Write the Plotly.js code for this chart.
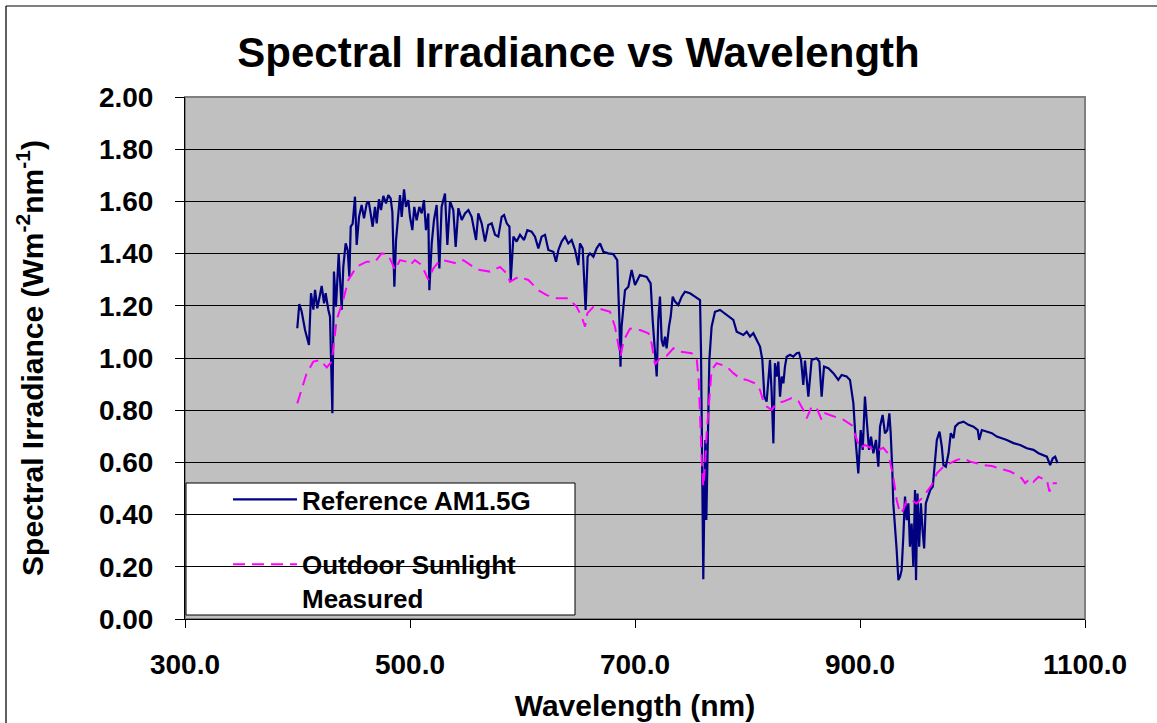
<!DOCTYPE html>
<html>
<head>
<meta charset="utf-8">
<script src="https://cdn.plot.ly/plotly-3.0.1.min.js"></script>
<style>
html,body{margin:0;padding:0;background:#fff;}
#chart{width:1157px;height:723px;}
</style>
</head>
<body>
<div id="chart"></div>
<script>
// Reference AM1.5G spectrum (wavelength nm, irradiance W m^-2 nm^-1)
const refWavelength = [399.8,401.6,403.7,406.7,410.2,412.0,414.1,415.6,417.6,419.4,421.5,423.6,425.0,427.4,428.9,431.0,432.4,434.2,436.6,439.3,440.7,442.8,444.6,446.1,447.3,449.0,451.1,452.6,454.7,457.0,459.1,461.5,463.3,465.0,466.8,468.9,470.4,472.4,474.2,476.3,478.7,480.7,482.8,484.3,486.1,487.6,489.6,491.1,492.6,494.7,496.4,498.5,500.0,502.1,503.8,505.9,508.3,510.4,512.4,514.2,516.3,517.2,519.3,521.3,523.7,526.1,528.1,531.1,533.2,535.6,538.5,540.6,543.0,546.0,548.9,551.9,554.8,558.7,560.7,563.7,566.7,569.6,572.6,575.6,578.5,581.5,583.6,586.0,588.4,589.5,591.9,594.8,597.8,601.4,604.3,608.1,611.1,614.1,617.0,620.0,623.0,627.4,629.8,631.9,634.8,637.8,640.7,643.7,646.7,649.6,651.1,653.5,656.1,657.9,660.0,663.0,665.9,668.9,671.9,676.3,680.7,684.2,686.1,687.1,688.1,691.1,694.1,697.0,700.0,704.4,710.4,713.9,715.7,717.8,719.3,720.7,722.2,723.7,725.2,726.7,728.1,730.2,731.7,733.5,735.6,738.5,741.5,744.4,748.9,753.3,756.3,757.8,758.7,759.3,760.7,761.6,762.5,763.4,764.6,766.1,768.1,771.1,775.6,780.0,784.4,787.4,790.4,793.3,796.3,799.3,802.2,805.2,808.1,811.1,813.2,815.0,817.0,818.5,820.0,821.5,823.0,824.4,825.9,827.4,828.9,830.4,831.9,833.3,834.8,837.8,840.7,843.7,845.8,847.6,849.6,851.1,854.1,857.0,861.5,863.9,865.9,868.0,871.9,876.3,880.7,883.7,888.1,891.1,894.1,896.1,898.5,900.6,902.4,904.4,905.9,908.0,909.8,911.9,914.2,916.3,917.8,920.1,922.2,924.3,926.1,927.3,928.7,929.6,932.6,934.1,935.6,937.0,938.5,940.0,941.5,943.0,944.4,945.9,947.4,948.9,949.8,951.1,952.6,954.1,955.6,957.0,958.5,960.3,962.4,964.7,966.8,968.3,970.7,972.7,974.2,976.3,978.7,980.7,983.1,984.6,987.6,992.0,996.4,1000.9,1004.7,1005.9,1008.3,1012.7,1017.2,1021.6,1026.1,1030.5,1036.4,1042.4,1048.3,1054.2,1058.7,1061.6,1066.1,1069.0,1071.4,1073.5,1075.6];
const refIrradiance = [1.114,1.207,1.178,1.107,1.050,1.248,1.185,1.261,1.190,1.235,1.276,1.209,1.248,1.185,1.158,0.788,1.331,1.197,1.398,1.185,1.349,1.439,1.413,1.312,1.503,1.514,1.618,1.433,1.541,1.586,1.535,1.592,1.599,1.554,1.503,1.579,1.516,1.608,1.567,1.621,1.592,1.624,1.611,1.560,1.273,1.452,1.567,1.624,1.541,1.646,1.579,1.605,1.541,1.490,1.579,1.528,1.579,1.554,1.605,1.490,1.554,1.260,1.439,1.528,1.586,1.343,1.579,1.630,1.433,1.600,1.567,1.426,1.574,1.529,1.554,1.567,1.541,1.452,1.554,1.516,1.446,1.510,1.516,1.472,1.465,1.541,1.548,1.516,1.503,1.292,1.465,1.446,1.472,1.452,1.490,1.484,1.465,1.420,1.465,1.472,1.414,1.407,1.369,1.414,1.446,1.465,1.439,1.452,1.414,1.356,1.439,1.420,1.184,1.388,1.401,1.388,1.420,1.439,1.407,1.401,1.398,1.375,1.146,0.967,1.120,1.260,1.273,1.337,1.280,1.318,1.311,1.286,1.146,0.993,0.929,1.146,1.235,1.069,1.044,1.082,1.037,1.120,1.158,1.235,1.216,1.203,1.235,1.254,1.248,1.235,1.228,1.222,1.018,0.635,0.152,0.443,0.686,0.379,0.635,0.993,1.120,1.177,1.184,1.171,1.158,1.146,1.101,1.095,1.088,1.101,1.082,1.095,1.069,1.044,0.993,0.852,0.833,0.903,0.993,0.865,0.673,0.980,0.929,0.986,0.852,0.929,0.903,0.967,1.005,1.012,1.005,1.018,1.020,0.993,0.897,0.990,0.852,0.993,0.999,0.986,0.852,0.967,0.961,0.942,0.916,0.935,0.929,0.916,0.827,0.686,0.558,0.724,0.648,0.852,0.775,0.648,0.699,0.635,0.686,0.584,0.737,0.782,0.711,0.724,0.788,0.711,0.571,0.443,0.264,0.149,0.162,0.188,0.315,0.469,0.379,0.443,0.277,0.366,0.200,0.494,0.149,0.481,0.277,0.443,0.341,0.270,0.443,0.469,0.494,0.507,0.622,0.686,0.718,0.661,0.590,0.584,0.635,0.712,0.693,0.737,0.750,0.756,0.744,0.737,0.724,0.686,0.724,0.718,0.712,0.699,0.693,0.686,0.674,0.667,0.654,0.648,0.635,0.629,0.622,0.590,0.616,0.622,0.597];

// Outdoor sunlight measured
const measWavelength = [399.8,408.1,414.1,420.0,426.0,430.4,434.8,440.7,445.2,452.6,461.5,468.9,474.8,480.7,486.7,491.1,497.0,500.0,504.4,510.4,516.3,520.7,526.7,532.6,541.5,547.4,556.3,562.2,571.1,580.0,585.9,588.9,596.3,605.2,614.1,621.5,630.4,640.7,648.1,652.6,655.6,657.6,663.0,671.9,677.8,682.2,685.2,687.1,690.1,695.6,704.4,711.9,714.8,717.8,722.2,728.1,734.1,740.0,750.4,754.8,756.6,757.8,759.3,760.7,762.2,763.7,766.1,768.1,772.6,781.5,787.4,793.3,799.3,806.7,811.1,814.1,817.0,821.5,825.9,831.9,839.3,845.2,849.6,852.6,857.0,861.5,865.9,868.9,876.3,885.2,892.6,897.0,900.0,904.4,908.9,914.8,920.7,925.2,929.6,932.6,935.6,938.5,941.5,945.9,950.4,954.8,959.3,963.7,968.3,974.2,980.1,986.1,992.0,997.9,1003.8,1009.7,1017.2,1024.6,1033.5,1039.4,1043.8,1046.8,1051.3,1054.2,1058.7,1061.6,1066.1,1068.4,1070.5,1075.0];
const measIrradiance = [0.826,0.941,0.986,0.992,0.964,0.986,1.146,1.223,1.299,1.350,1.369,1.369,1.401,1.395,1.337,1.375,1.369,1.356,1.375,1.356,1.299,1.343,1.375,1.372,1.362,1.375,1.349,1.337,1.331,1.349,1.324,1.292,1.311,1.299,1.260,1.241,1.229,1.229,1.196,1.158,1.120,1.171,1.196,1.184,1.177,1.120,1.044,1.005,1.069,1.113,1.107,1.095,1.056,0.975,1.000,1.008,1.037,1.024,1.018,0.999,0.916,0.737,0.610,0.507,0.584,0.712,0.865,0.954,0.980,0.967,0.942,0.922,0.916,0.903,0.878,0.833,0.814,0.801,0.827,0.833,0.846,0.835,0.801,0.769,0.814,0.808,0.763,0.788,0.777,0.764,0.743,0.686,0.654,0.667,0.656,0.644,0.656,0.632,0.545,0.456,0.405,0.418,0.456,0.456,0.443,0.462,0.487,0.513,0.558,0.584,0.597,0.609,0.616,0.603,0.597,0.590,0.586,0.577,0.565,0.552,0.539,0.520,0.539,0.526,0.545,0.539,0.533,0.488,0.520,0.520];

const seriesNames = ["Reference AM1.5G", "Outdoor Sunlight<br>Measured"];
const xTickValues = [300, 500, 700, 900, 1100];
const yTickValues = [0, 0.2, 0.4, 0.6, 0.8, 1.0, 1.2, 1.4, 1.6, 1.8, 2.0];

const FONT = "Liberation Sans, Arial, Helvetica, sans-serif";

const traces = [
  {
    x: refWavelength, y: refIrradiance, type: "scatter", mode: "lines",
    name: seriesNames[0], legendgroup: "a",
    line: {color: "#000080", width: 2.2}
  },
  {
    x: measWavelength, y: measIrradiance, type: "scatter", mode: "lines",
    name: seriesNames[1], legendgroup: "b",
    line: {color: "#FF00FF", width: 2, dash: "12px,7px"}
  }
];

const layout = {
  width: 1157, height: 723,
  margin: {l: 185, r: 72, t: 97, b: 104, pad: 0},
  paper_bgcolor: "#FFFFFF",
  plot_bgcolor: "#C0C0C0",
  font: {family: FONT, color: "#000000", size: 26, weight: "bold"},
  title: {
    text: "Spectral Irradiance vs Wavelength",
    font: {family: FONT, size: 42, color: "#000000", weight: "bold"},
    x: 0.5, xref: "container", xanchor: "center",
    y: 1 - 52/723, yref: "container", yanchor: "middle"
  },
  xaxis: {
    range: [300, 1100],
    tickvals: xTickValues,
    tickformat: ".1f",
    showgrid: false, zeroline: false,
    showline: true, linecolor: "#000000", linewidth: 1,
    ticks: "outside", ticklen: 8, tickcolor: "#000000", tickwidth: 1,
    ticklabelstandoff: 12,
    tickfont: {family: FONT, size: 28, color: "#000000", weight: "bold"},
    title: {text: "Wavelength (nm)", standoff: 16,
            font: {family: FONT, size: 30, color: "#000000", weight: "bold"}},
    fixedrange: true
  },
  yaxis: {
    range: [0, 2],
    tickvals: yTickValues,
    tickformat: ".2f",
    showgrid: true, gridcolor: "#000000", gridwidth: 1,
    zeroline: false,
    showline: true, linecolor: "#000000", linewidth: 1,
    ticks: "outside", ticklen: 9, tickcolor: "#000000", tickwidth: 1,
    ticklabelstandoff: 16,
    tickfont: {family: FONT, size: 28, color: "#000000", weight: "bold"},
    title: {text: "Spectral Irradiance (Wm<sup>-2</sup>nm<sup>-1</sup>)", standoff: 46,
            font: {family: FONT, size: 30, color: "#000000", weight: "bold"}},
    fixedrange: true
  },
  showlegend: true,
  legend: {
    x: (228 - 185) / 900, xanchor: "left",
    y: (619 - 476) / 522, yanchor: "top",
    bgcolor: "rgba(0,0,0,0)", borderwidth: 0,
    font: {family: FONT, size: 26, color: "#000000", weight: "bold"},
    traceorder: "grouped", tracegroupgap: 28,
    valign: "top",
    itemwidth: 64
  },
  shapes: [
    // plot area frame (grey)
    {type: "rect", xref: "paper", yref: "paper", x0: 0, x1: 1, y0: 0, y1: 1,
     line: {color: "#808080", width: 2}, fillcolor: "rgba(0,0,0,0)", layer: "below"},
    // legend box
    {type: "rect", xref: "paper", yref: "paper",
     x0: (186 - 185) / 900, x1: (575 - 185) / 900,
     y0: (619 - 615) / 522, y1: (619 - 483) / 522,
     line: {color: "#000000", width: 1}, fillcolor: "#FFFFFF", layer: "between"},
    // chart outer border: left and top edges
    {type: "line", xref: "paper", yref: "paper",
     x0: (6 - 185) / 900, x1: (6 - 185) / 900, y0: (619 - 730) / 522, y1: (619 - 6) / 522,
     line: {color: "#606060", width: 2}},
    {type: "line", xref: "paper", yref: "paper",
     x0: (6 - 185) / 900, x1: (1160 - 185) / 900, y0: (619 - 6) / 522, y1: (619 - 6) / 522,
     line: {color: "#000000", width: 1}}
  ]
};

Plotly.newPlot("chart", traces, layout, {displayModeBar: false, staticPlot: true});
</script>
</body>
</html>
